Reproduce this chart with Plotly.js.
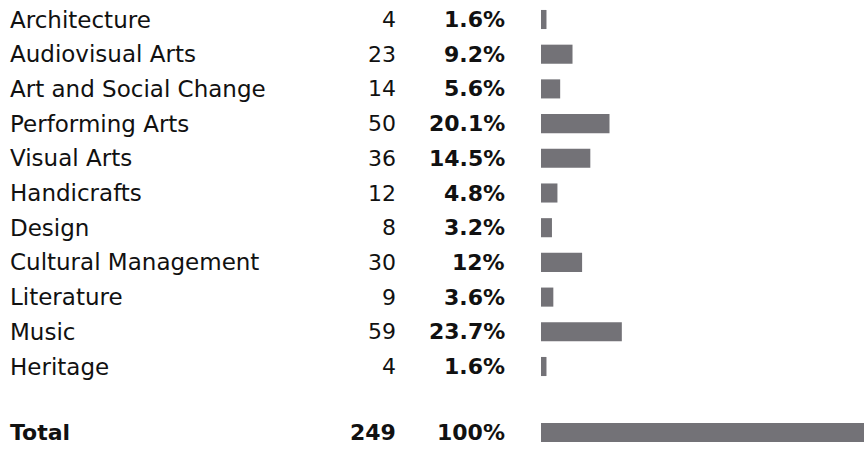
<!DOCTYPE html>
<html>
<head>
<meta charset="utf-8">
<script src="https://cdn.plot.ly/plotly-3.0.1.min.js"></script>
<style>html,body{margin:0;padding:0;background:#fff;}#chart{width:864px;height:451px;}</style>
</head>
<body>
<div id="chart"></div>
<script>
const categories = ["Architecture","Audiovisual Arts","Art and Social Change","Performing Arts","Visual Arts","Handicrafts","Design","Cultural Management","Literature","Music","Heritage"];
const counts = [4,23,14,50,36,12,8,30,9,59,4];
const percents = ["1.6%","9.2%","5.6%","20.1%","14.5%","4.8%","3.2%","12%","3.6%","23.7%","1.6%"];
const totalLabel = "Total";
const totalCount = 249;
const totalPercent = "100%";

const W = 864, H = 451;
const FONT = "DejaVu Sans, sans-serif";
const LABEL_SIZE = 23;
const FSIZE = 22;
const rows = categories.map((c, i) => i);
const totalRow = categories.length + 0.9;

const barColor = "#737277";
const pxPerUnit = 1.37, zeroPx = 541;
const pitch = 34.7, firstCenter = 19.5;
const yTop = -firstCenter / pitch;
const yBottom = yTop + H / pitch;

const traces = [
  {type: "bar", orientation: "h", x: counts, y: rows, width: 0.55,
   marker: {color: barColor}, hoverinfo: "skip"},
  {type: "bar", orientation: "h", x: [totalCount], y: [totalRow], width: 0.55,
   marker: {color: barColor}, hoverinfo: "skip"}
];

const annotations = [];
function addRow(y, label, count, pct, bold) {
  const f = {family: FONT, size: FSIZE, color: "#111"};
  const fb = {family: FONT, size: FSIZE, color: "#111", weight: 700};
  const lf = {family: FONT, size: bold ? FSIZE : LABEL_SIZE, color: "#111", weight: bold ? 700 : 400};
  annotations.push({xref: "paper", yref: "y", x: 9 / W, y: y, xanchor: "left", yanchor: "middle",
    text: label, showarrow: false, borderpad: 0, font: lf});
  annotations.push({xref: "paper", yref: "y", x: 397 / W, y: y, xanchor: "right", yanchor: "middle",
    text: String(count), showarrow: false, borderpad: 0, font: bold ? fb : f});
  annotations.push({xref: "paper", yref: "y", x: 506 / W, y: y, xanchor: "right", yanchor: "middle",
    text: pct, showarrow: false, borderpad: 0, font: fb});
}
categories.forEach((c, i) => addRow(rows[i], c, counts[i], percents[i], false));
addRow(totalRow, totalLabel, totalCount, totalPercent, true);

const layout = {
  width: W, height: H,
  margin: {l: 0, r: 0, t: 0, b: 0, pad: 0},
  paper_bgcolor: "#fff", plot_bgcolor: "#fff",
  showlegend: false,
  barmode: "overlay",
  xaxis: {range: [-zeroPx / pxPerUnit, (W - zeroPx) / pxPerUnit], visible: false, fixedrange: true},
  yaxis: {range: [yBottom, yTop], visible: false, fixedrange: true},
  annotations: annotations
};
Plotly.newPlot("chart", traces, layout, {displayModeBar: false, staticPlot: true});
</script>
</body>
</html>
